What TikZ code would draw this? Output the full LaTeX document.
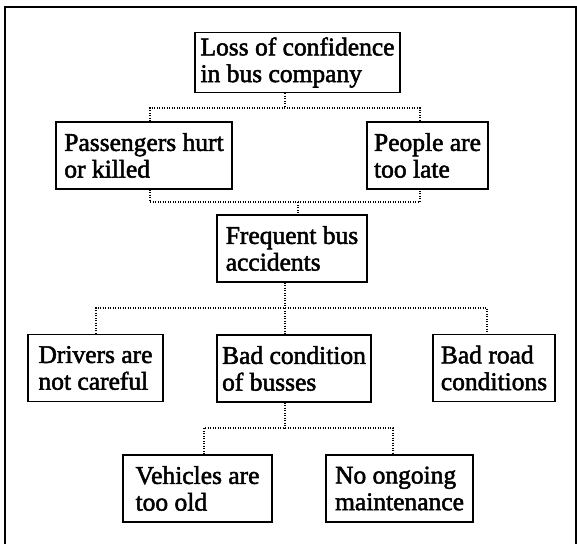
\documentclass[tikz,border=0pt]{standalone}
\usepackage{fontspec}
\setmainfont{Liberation Serif}
\newfontfamily\boxfont[FakeBold=2]{Liberation Serif}
\begin{document}
\begin{tikzpicture}[x=1pt,y=-1pt,
  box/.style={draw=black,line width=1.2pt,rectangle,align=left,inner sep=0pt,
    font=\boxfont\fontsize{25.5}{26.7}\selectfont},
  conn/.style={draw=black,line width=2pt,dash pattern=on 1.3pt off 1.2pt},
  frame/.style={draw=black,line width=1.8pt}]
\useasboundingbox (0,0) rectangle (577,543);
% outer frame
\draw[frame] (5,545) -- (5,7) -- (576,7) -- (576,545);
% boxes
\node[box,minimum width=205pt,minimum height=60pt] (n1) at (297.5,62.5) {Loss of confidence\\in bus company};
\node[box,minimum width=176pt,minimum height=67pt] (n2) at (144,155.5) {Passengers hurt\\or killed};
\node[box,minimum width=121pt,minimum height=67pt] (n3) at (427.5,155.5) {People are\\too late};
\node[box,minimum width=150pt,minimum height=67pt] (n4) at (292,248.5) {Frequent bus\\accidents};
\node[box,minimum width=135pt,minimum height=67pt] (n5) at (95.5,368) {Drivers are\\not careful};
\node[box,minimum width=154pt,minimum height=67pt] (n6) at (294,368.5) {Bad condition\\of busses};
\node[box,minimum width=122pt,minimum height=67pt] (n7) at (494,368) {Bad road\\conditions};
\node[box,minimum width=149pt,minimum height=67pt] (n8) at (197.5,488.5) {Vehicles are\\too old};
\node[box,minimum width=147pt,minimum height=67pt] (n9) at (399.5,488.5) {No ongoing\\maintenance};
% junctions
\coordinate (j1) at (285,108);
\coordinate (a1) at (150,108);
\coordinate (a2) at (420,108);
\coordinate (b1) at (150,202);
\coordinate (b2) at (420,202);
\coordinate (j2) at (298,202);
\coordinate (j3) at (285,308);
\coordinate (c1) at (96,308);
\coordinate (c3) at (487,308);
\coordinate (j4) at (285,428);
\coordinate (d1) at (204,428);
\coordinate (d2) at (393,428);
% connectors
\draw[conn] (n1.south -| j1) -- (j1);
\draw[conn] (n2.north -| a1) -- (a1) -- (a2) -- (n3.north -| a2);
\draw[conn] (n2.south -| b1) -- (b1) -- (b2) -- (n3.south -| b2);
\draw[conn] (j2) -- (n4.north -| j2);
\draw[conn] (n4.south -| j3) -- (j3);
\draw[conn] (n5.north -| c1) -- (c1) -- (c3) -- (n7.north -| c3);
\draw[conn] (j3) -- (n6.north -| j3);
\draw[conn] (n6.south -| j4) -- (j4);
\draw[conn] (n8.north -| d1) -- (d1) -- (d2) -- (n9.north -| d2);
\end{tikzpicture}
\end{document}
